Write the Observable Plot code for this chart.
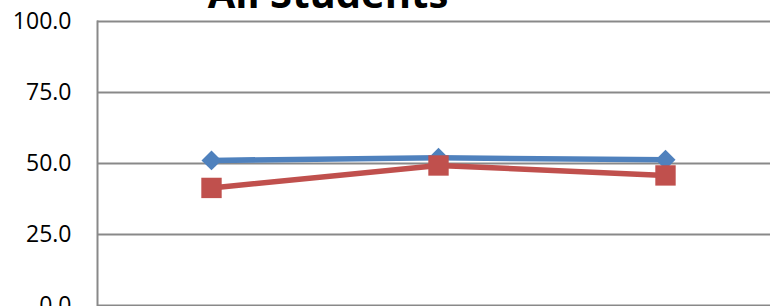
<!DOCTYPE html>
<html>
<head>
<meta charset="utf-8">
<script src="https://cdn.jsdelivr.net/npm/d3@7"></script>
<script src="https://cdn.jsdelivr.net/npm/@observablehq/plot@0.6"></script>
<style>
  html, body { margin: 0; padding: 0; background: #fff; overflow: hidden; }
  #wrap { position: relative; width: 770px; height: 306px; }
  #title { position: absolute; left: 0; width: 656px; text-align: center; top: -33px;
           font-family: "Open Sans", sans-serif; font-weight: 700; font-size: 40px; line-height: 52px; color: #000; }
</style>
</head>
<body>
<div id="wrap"><div id="title">All Students</div></div>
<script>
const title = "All Students";
const categories = ["Year 1", "Year 2", "Year 3"];
const seriesA = [51.1, 52.0, 51.3];
const seriesB = [41.4, 49.3, 45.8];
const yTicks = [0, 25, 50, 75, 100];

const dataA = categories.map((c, i) => ({cat: c, v: seriesA[i]}));
const dataB = categories.map((c, i) => ({cat: c, v: seriesB[i]}));

document.getElementById("title").textContent = title;

const chart = Plot.plot({
  width: 770,
  height: 306,
  marginLeft: 97,
  marginRight: 0,
  marginTop: 21,
  marginBottom: 1,
  style: {fontFamily: "'Open Sans', sans-serif", background: "transparent", overflow: "visible"},
  x: {type: "point", domain: categories, range: [97, 779], padding: 0.5, axis: null},
  y: {domain: [0, 100], label: null},
  marks: [
    Plot.ruleY(yTicks, {stroke: "#898989", strokeWidth: 2}),
    Plot.frame({anchor: "left", stroke: "#898989", strokeWidth: 2}),
    Plot.axisY({ticks: yTicks, tickFormat: d => d.toFixed(1), tickSize: 0, tickPadding: 26, fontSize: 23, fill: "#000", fillOpacity: 1, label: null}),
    Plot.line(dataA, {x: "cat", y: "v", stroke: "#4F81BD", strokeWidth: 5.5}),
    Plot.dot(dataA, {x: "cat", y: "v", symbol: "diamond2", r: 9, fill: "#4F81BD", stroke: "none"}),
    Plot.line(dataB, {x: "cat", y: "v", stroke: "#C0504D", strokeWidth: 5.5}),
    Plot.dot(dataB, {x: "cat", y: "v", symbol: "square", r: 11.5, fill: "#C0504D", stroke: "none"})
  ]
});
document.getElementById("wrap").prepend(chart);
chart.style.position = "absolute";
chart.style.left = "0";
chart.style.top = "0";
document.getElementById("wrap").appendChild(document.getElementById("title"));
</script>
</body>
</html>
